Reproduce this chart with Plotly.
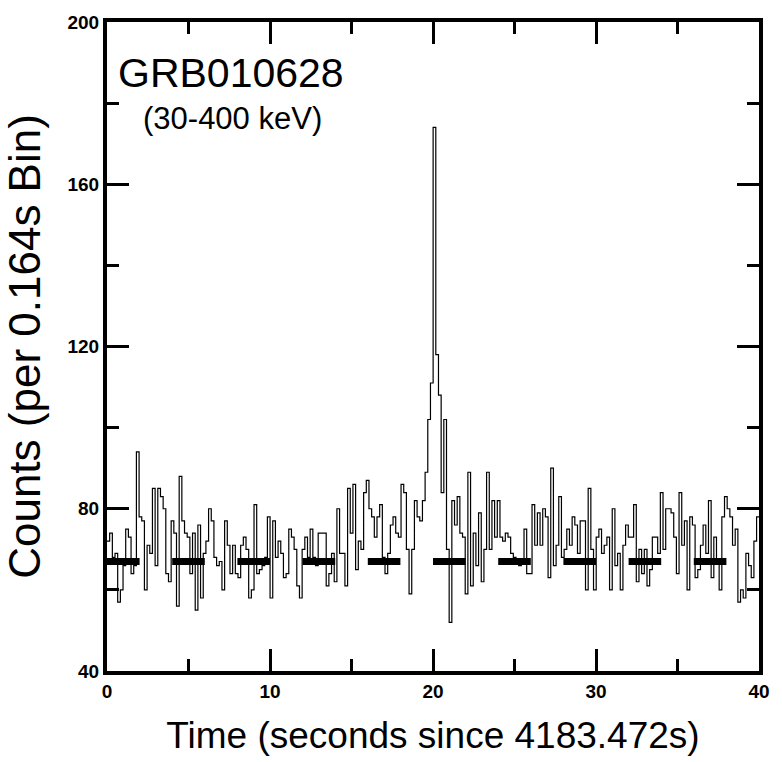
import plotly.graph_objects as go

# ---------------- data ----------------
bin_width = 0.164  # seconds per bin

counts_0_8 = [72, 74, 68, 69, 57, 60, 66, 75, 73, 64,
              66, 94, 78, 77, 60, 71, 69, 85, 66, 85,
              83, 80, 64, 62, 77, 74, 56, 88, 77, 74,
              73, 64, 74, 55, 76, 58, 69, 72, 80, 77,
              68, 66, 67, 60, 77, 71, 64, 71, 64]
counts_8_16 = [63, 71, 73, 70, 58, 60, 81, 64, 65, 66,
               68, 78, 58, 77, 68, 72, 69, 63, 64, 75,
               73, 70, 61, 58, 70, 73, 68, 75, 68, 66,
               74, 74, 74, 61, 64, 69, 62, 80, 69, 69,
               61, 85, 74, 86, 65, 72, 70, 84, 87]
counts_16_24 = [80, 78, 73, 78, 81, 68, 64, 69, 76, 78,
                74, 73, 86, 84, 70, 59, 70, 82, 78, 77,
                82, 89, 102, 111, 174, 118, 108, 84, 102, 70,
                52, 82, 76, 83, 74, 73, 59, 89, 61, 74,
                66, 79, 62, 70, 89, 70, 82, 73]
counts_24_32 = [82, 73, 72, 74, 73, 69, 68, 67, 66, 67,
                75, 64, 64, 81, 71, 79, 71, 80, 78, 63,
                90, 66, 71, 83, 68, 70, 75, 71, 78, 76,
                69, 77, 77, 60, 85, 70, 60, 73, 75, 69,
                71, 73, 60, 80, 66, 69, 60, 71, 76, 73]
counts_32_40 = [73, 81, 62, 70, 64, 70, 61, 65, 73, 73,
                69, 84, 70, 80, 80, 79, 73, 64, 84, 71,
                77, 60, 78, 76, 63, 65, 71, 76, 69, 82,
                63, 73, 67, 60, 78, 83, 80, 78, 71, 75,
                57, 60, 58, 69, 66, 63, 72, 78]

background_level = 67
background_dash_starts = [0, 4, 8, 12, 16, 20, 24, 28, 32, 36]
background_dash_length = 2

x_ticks = [0, 10, 20, 30, 40]
x_minor_ticks = [5, 15, 25, 35]
y_ticks = [40, 80, 120, 160, 200]
y_minor_ticks = [60, 100, 140, 180]

title_text = "GRB010628"
subtitle_text = "(30-400 keV)"
x_title = "Time (seconds since 4183.472s)"
y_title = "Counts (per 0.164s Bin)"

# ---------------- build ----------------
counts = counts_0_8 + counts_8_16 + counts_16_24 + counts_24_32 + counts_32_40
edges = [i * bin_width for i in range(len(counts) + 1)]
step_y = counts + [counts[-1]]

bg_x, bg_y = [], []
for s in background_dash_starts:
    bg_x += [s, s + background_dash_length, None]
    bg_y += [background_level, background_level, None]

FONT = "Liberation Sans, Arial, Helvetica, sans-serif"

fig = go.Figure()
fig.add_trace(go.Scatter(x=edges, y=step_y, mode="lines",
                         line=dict(shape="hv", color="black", width=1.2),
                         hoverinfo="skip", showlegend=False))
fig.add_trace(go.Scatter(x=bg_x, y=bg_y, mode="lines",
                         line=dict(color="black", width=7),
                         hoverinfo="skip", showlegend=False))

axis_common = dict(
    ticks="inside", tickwidth=3, tickcolor="black", ticklen=22,
    showline=True, linewidth=4, linecolor="black", mirror="ticks",
    showgrid=False, zeroline=False,
    tickfont=dict(family=FONT, size=19, color="black", weight="bold"),
)

fig.update_layout(
    width=782, height=762,
    margin=dict(l=107, r=15, t=13, b=90),
    plot_bgcolor="white", paper_bgcolor="white",
    xaxis=dict(range=[0, 40], tickvals=x_ticks,
               minor=dict(tickvals=x_minor_ticks, ticks="inside", ticklen=12,
                          tickwidth=3, tickcolor="black"),
               title=dict(text=x_title, font=dict(family=FONT, size=37, color="black"),
                          standoff=22),
               **axis_common),
    yaxis=dict(range=[40, 200], tickvals=y_ticks,
               minor=dict(tickvals=y_minor_ticks, ticks="inside", ticklen=12,
                          tickwidth=3, tickcolor="black"),
               title=dict(text=y_title, font=dict(family=FONT, size=44, color="black"),
                          standoff=14),
               **axis_common),
    annotations=[
        dict(text=title_text, xref="paper", yref="paper", x=0.014, y=0.921,
             xanchor="left", yanchor="middle", showarrow=False,
             font=dict(family=FONT, size=41, color="black")),
        dict(text=subtitle_text, xref="paper", yref="paper", x=0.052, y=0.852,
             xanchor="left", yanchor="middle", showarrow=False,
             font=dict(family=FONT, size=31, color="black")),
    ],
)

fig.write_html("out.html")
